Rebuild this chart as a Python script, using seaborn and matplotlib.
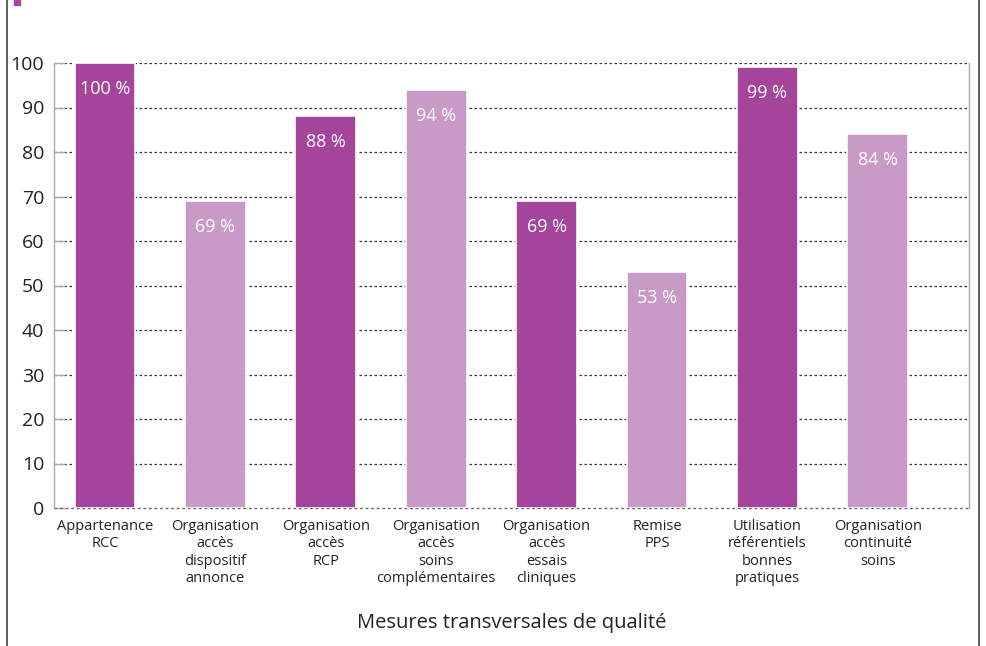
import matplotlib
matplotlib.use("Agg")
import matplotlib.pyplot as plt
import seaborn as sns
import pandas as pd
from matplotlib.lines import Line2D
from matplotlib.patches import Rectangle

categories = [
    "Appartenance\nRCC",
    "Organisation\naccès\ndispositif\nannonce",
    "Organisation\naccès\nRCP",
    "Organisation\naccès\nsoins\ncomplémentaires",
    "Organisation\naccès\nessais\ncliniques",
    "Remise\nPPS",
    "Utilisation\nréférentiels\nbonnes\npratiques",
    "Organisation\ncontinuité\nsoins",
]
values = [100, 69, 88, 94, 69, 53, 99, 84]
shades = ["fonce", "clair", "fonce", "clair", "fonce", "clair", "fonce", "clair"]
y_ticks = [0, 10, 20, 30, 40, 50, 60, 70, 80, 90, 100]
x_title = "Mesures transversales de qualité"

dark = "#A4449A"
light = "#C999C7"

sns.set_theme(style="white")
plt.rcParams["font.family"] = ["Open Sans", "DejaVu Sans"]

df = pd.DataFrame({"cat": categories, "val": values, "shade": shades})

fig = plt.figure(figsize=(9.87, 6.46), dpi=100)
ax = fig.add_axes([54 / 987, 138 / 646, 915 / 987, 445 / 646])

ax.set_axisbelow(True)
for t in y_ticks[1:]:
    ax.axhline(t, color="#333333", linestyle=(0, (2, 2)), linewidth=0.9, zorder=0)
ax.axhline(0, color="#666666", linestyle=(0, (2, 2)), linewidth=1.0, zorder=1, clip_on=False)

sns.barplot(data=df, x="cat", y="val", hue="shade",
            palette={"fonce": dark, "clair": light}, saturation=1,
            width=0.55, dodge=False, legend=False,
            edgecolor="white", linewidth=1.2, ax=ax, zorder=2)

for i, v in enumerate(values):
    ax.text(i, v - 5.8, f"{v} %", ha="center", va="center",
            color="white", fontsize=13, zorder=3)

ax.set_xlim(-0.462, 7.826)
ax.set_ylim(0, 100)
ax.set_yticks(y_ticks)
ax.tick_params(axis="y", which="both", left=True, direction="in", length=8, width=1,
               color="#aaaaaa", labelsize=14, labelcolor="#222222", pad=7)
ax.tick_params(axis="x", bottom=False, labelsize=10.5, labelcolor="#222222", pad=2)
ax.set_xlabel(x_title, fontsize=14.5, color="#222222", labelpad=20)
ax.set_ylabel("")

for side in ["top", "bottom"]:
    ax.spines[side].set_visible(False)
for side in ["left", "right"]:
    ax.spines[side].set_color("#aaaaaa")
    ax.spines[side].set_linewidth(1)

# frame of the figure, top and bottom cut off
fig.add_artist(Line2D([7 / 987, 7 / 987], [0, 1], color="#444444", linewidth=1.2))
fig.add_artist(Line2D([979 / 987, 979 / 987], [0, 1], color="#444444", linewidth=1.2))
fig.add_artist(Rectangle((14 / 987, 1 - 5 / 646), 6 / 987, 8 / 646,
                         color="#B0409F", transform=fig.transFigure))

fig.savefig("out.png", dpi=100)
